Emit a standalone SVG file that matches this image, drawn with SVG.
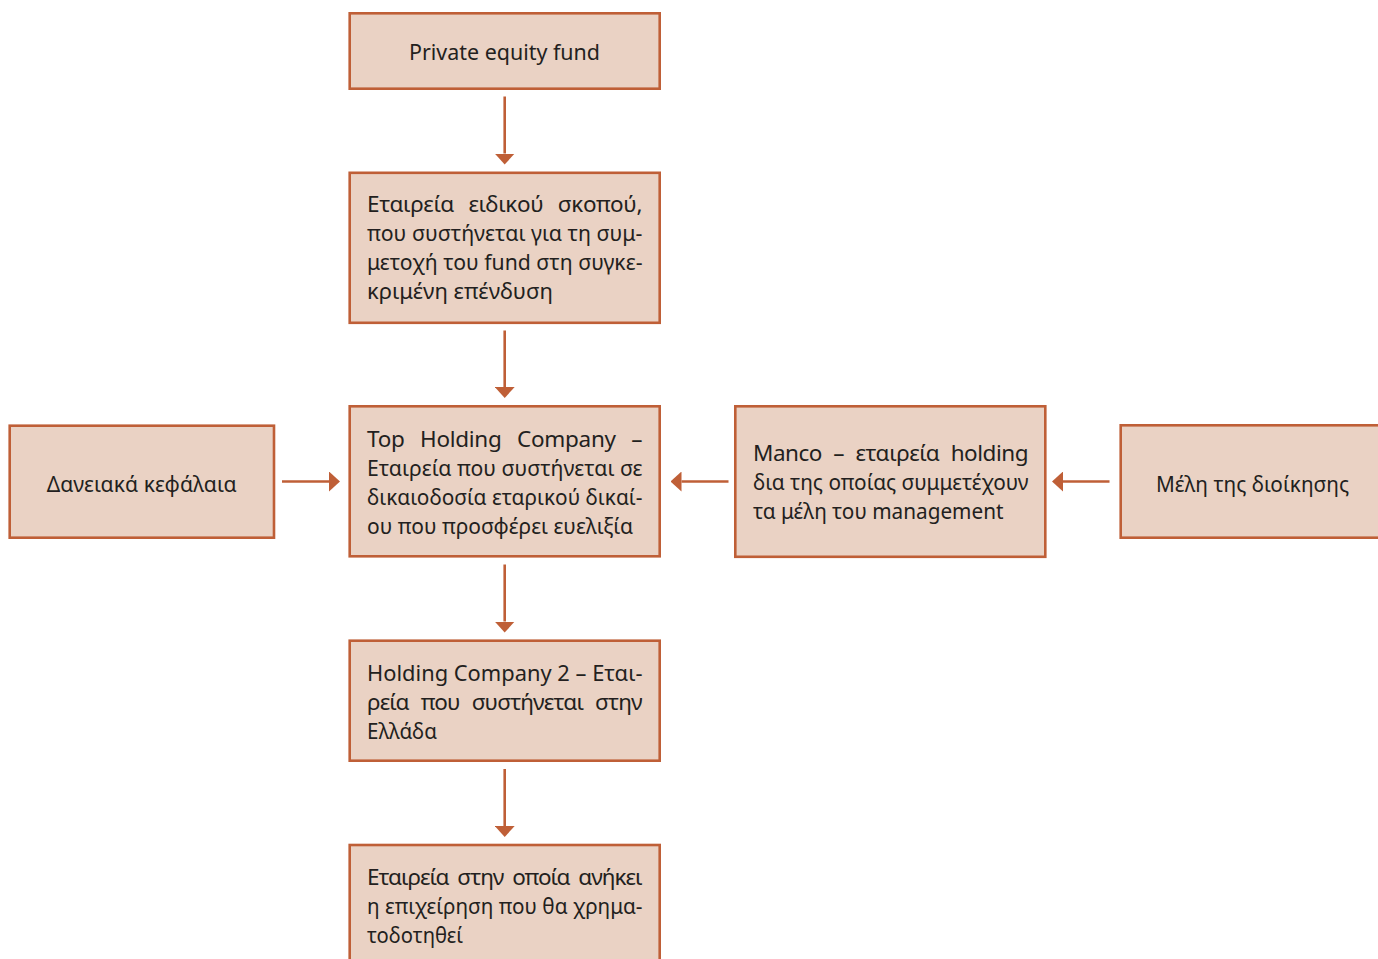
<svg xmlns="http://www.w3.org/2000/svg" width="1378" height="959" viewBox="0 0 1378 959">
  <style>
    .box { fill: #EAD2C4; stroke: #BF5F37; stroke-width: 2.6; }
    .t { font-family: "Noto Sans", "Open Sans", sans-serif; font-size: 22.5px; fill: #231F20; }
    .c { text-anchor: middle; }
    .con line { stroke: #BF5F37; stroke-width: 2.6; fill: none; marker-end: url(#ah); }
  </style>
  <defs>
    <marker id="ah" viewBox="0 0 11 20" refX="0" refY="10" markerWidth="11" markerHeight="20" markerUnits="userSpaceOnUse" orient="auto">
      <path d="M0,0 L11,10 L0,20 z" fill="#BF5F37"/>
    </marker>
  </defs>
  <rect width="1378" height="959" fill="#FFFFFF"/>

  <g id="connectors" class="con">
    <line x1="504.7" y1="96.5" x2="504.7" y2="153.5"/>
    <line x1="504.7" y1="330.5" x2="504.7" y2="387"/>
    <line x1="504.7" y1="564.5" x2="504.7" y2="621.5"/>
    <line x1="504.7" y1="769" x2="504.7" y2="826"/>
    <line x1="282" y1="481.5" x2="329" y2="481.5"/>
    <line x1="728.5" y1="481.5" x2="681.5" y2="481.5"/>
    <line x1="1109.5" y1="481.5" x2="1063" y2="481.5"/>
  </g>

  <g id="private-equity-fund">
    <rect class="box" x="349.7" y="13.3" width="310" height="75.4"/>
    <text class="t c" x="504.5" y="60" textLength="191" lengthAdjust="spacingAndGlyphs">Private equity fund</text>
  </g>

  <g id="spv">
    <rect class="box" x="349.7" y="172.8" width="310" height="150"/>
    <text class="t" x="367" y="212" textLength="275.5" lengthAdjust="spacing" word-spacing="9">Εταιρεία ειδικού σκοπού,</text>
    <text class="t" x="367" y="241" textLength="275.5" lengthAdjust="spacingAndGlyphs">που συστήνεται για τη συμ-</text>
    <text class="t" x="367" y="270" textLength="275.5" lengthAdjust="spacingAndGlyphs">μετοχή του fund στη συγκε-</text>
    <text class="t" x="367" y="299" textLength="186" lengthAdjust="spacingAndGlyphs">κριμένη επένδυση</text>
  </g>

  <g id="top-holding">
    <rect class="box" x="349.7" y="406.3" width="310" height="150"/>
    <text class="t" x="367" y="447" textLength="275.5" lengthAdjust="spacing" word-spacing="10">Top Holding Company –</text>
    <text class="t" x="367" y="476" textLength="275.5" lengthAdjust="spacingAndGlyphs">Εταιρεία που συστήνεται σε</text>
    <text class="t" x="367" y="505" textLength="275.5" lengthAdjust="spacingAndGlyphs">δικαιοδοσία εταρικού δικαί-</text>
    <text class="t" x="367" y="534" textLength="266" lengthAdjust="spacingAndGlyphs">ου που προσφέρει ευελιξία</text>
  </g>

  <g id="loan-capital">
    <rect class="box" x="9.7" y="425.7" width="264.3" height="112"/>
    <text class="t c" x="141.7" y="491.5" textLength="190" lengthAdjust="spacingAndGlyphs">Δανειακά κεφάλαια</text>
  </g>

  <g id="manco">
    <rect class="box" x="735.3" y="406.3" width="310" height="150.5"/>
    <text class="t" x="753" y="461" textLength="275.5" lengthAdjust="spacing" word-spacing="6">Manco – εταιρεία holding</text>
    <text class="t" x="753" y="490" textLength="275.5" lengthAdjust="spacingAndGlyphs">δια της οποίας συμμετέχουν</text>
    <text class="t" x="753" y="519" textLength="250.5" lengthAdjust="spacingAndGlyphs">τα μέλη του management</text>
  </g>

  <g id="management-members">
    <rect class="box" x="1120.7" y="425.3" width="265" height="112.4"/>
    <text class="t" x="1156" y="491.5" textLength="193" lengthAdjust="spacingAndGlyphs">Μέλη της διοίκησης</text>
  </g>

  <g id="holding-company-2">
    <rect class="box" x="349.7" y="640.7" width="310" height="120"/>
    <text class="t" x="367" y="681" textLength="275.5" lengthAdjust="spacingAndGlyphs">Holding Company 2 – Εται-</text>
    <text class="t" x="367" y="710" textLength="275.5" lengthAdjust="spacing" word-spacing="7">ρεία που συστήνεται στην</text>
    <text class="t" x="367" y="738.5" textLength="70" lengthAdjust="spacingAndGlyphs">Ελλάδα</text>
  </g>

  <g id="target-company">
    <rect class="box" x="349.7" y="845" width="310" height="130"/>
    <text class="t" x="367" y="885" textLength="275.5" lengthAdjust="spacing" word-spacing="4">Εταιρεία στην οποία ανήκει</text>
    <text class="t" x="367" y="914" textLength="275.5" lengthAdjust="spacingAndGlyphs">η επιχείρηση που θα χρημα-</text>
    <text class="t" x="367" y="943" textLength="96" lengthAdjust="spacingAndGlyphs">τοδοτηθεί</text>
  </g>
</svg>
